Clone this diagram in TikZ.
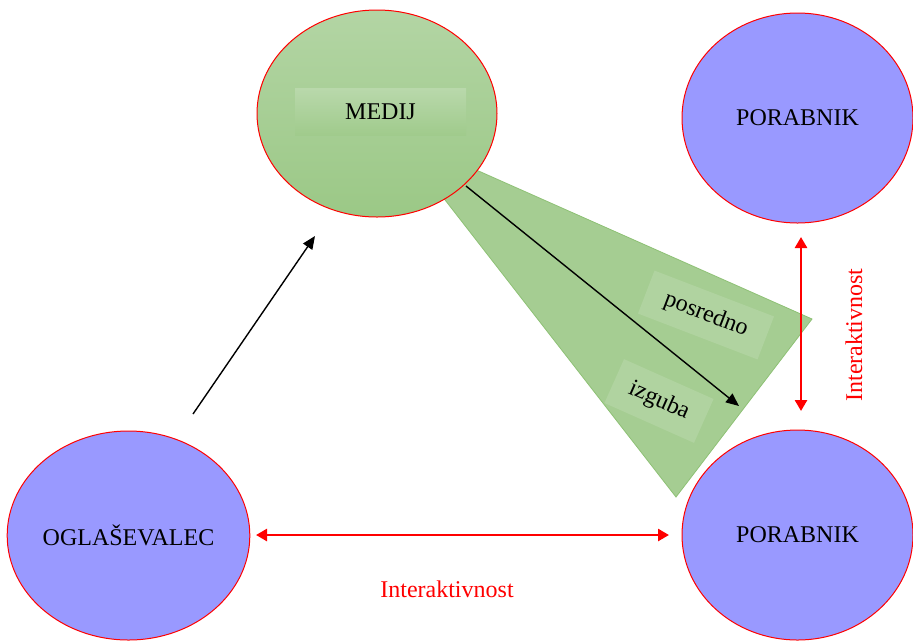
\documentclass[tikz,border=0pt]{standalone}
\usepackage{fontspec}
\setmainfont{Liberation Serif}
\usetikzlibrary{arrows.meta,shapes.geometric}
\definecolor{purp}{HTML}{9999FF}
\definecolor{gtop}{HTML}{B3D5A4}
\definecolor{gbot}{HTML}{9BC886}
\definecolor{tri}{HTML}{A5CD92}
\definecolor{triedge}{HTML}{8EC175}
\begin{document}
\begin{tikzpicture}[x=1pt,y=-1pt,
  txt/.style={font=\fontsize{24}{27}\selectfont},
  person/.style={ellipse,draw=red,line width=1pt,fill=purp,inner sep=0pt,txt},
  redarrow/.style={red,line width=2.6pt,{Triangle[length=11pt,width=12pt]}-{Triangle[length=11pt,width=12pt]}},
  blackarrow/.style={black,line width=1.4pt,-{Triangle[length=13pt,width=11pt]}},
  labbox/.style={fill=white,fill opacity=0.13,text opacity=1,inner sep=0pt,txt}]
\useasboundingbox (0,0) rectangle (913,641);
% triangle (behind MEDIJ)
\coordinate (t1) at (393,133);
\coordinate (t2) at (812,319);
\coordinate (t3) at (676,497);
\fill[tri,draw=triedge,line width=0.8pt] (t1) -- (t2) -- (t3) -- cycle;
% MEDIJ
\node[ellipse,draw=red,line width=1pt,top color=gtop,bottom color=gbot,minimum width=240pt,minimum height=207pt,inner sep=0pt] (medij) at (377,113.5) {};
\node[txt,inner sep=0pt,minimum width=171pt,minimum height=47pt,top color=gtop!92!white,bottom color=gbot!95!white] (medijtxt) at (380.5,111.5) {MEDIJ};
% persons
\node[person,minimum width=231pt,minimum height=210pt] (por1) at (797.5,118) {PORABNIK};
\node[person,minimum width=231pt,minimum height=210pt] (por2) at (797.5,535) {PORABNIK};
\node[person,minimum width=241pt,minimum height=209pt] (ogl) at (128.5,535.5) {OGLAŠEVALEC};
% labels in triangle
\node[labbox,rotate=-21,minimum width=128pt,minimum height=46pt] (pos) at (706,315) {posredno};
\node[labbox,rotate=-24,minimum width=98pt,minimum height=48pt] (izg) at (659,401) {izguba};
% arrows
\coordinate (a1s) at (466,186);
\coordinate (a1e) at (739,406);
\draw[blackarrow] (a1s) -- (a1e);
\coordinate (a2s) at (193,414);
\coordinate (a2e) at (315,236);
\draw[blackarrow] (a2s) -- (a2e);
\coordinate (h1) at (256,535);
\coordinate (h2) at (669,535);
\draw[redarrow] (h1) -- (h2);
\coordinate (v1) at (801,237);
\coordinate (v2) at (801,411);
\draw[redarrow] (v1) -- (v2);
\node[txt,red] (int1) at (447,589) {Interaktivnost};
\node[txt,red,rotate=90] (int2) at (854,335) {Interaktivnost};
\end{tikzpicture}
\end{document}
